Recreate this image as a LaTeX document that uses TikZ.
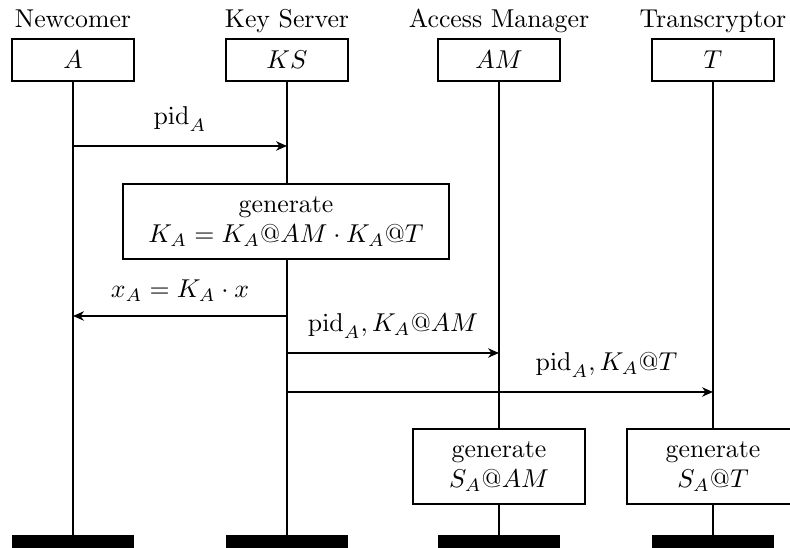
\documentclass[tikz,border=0pt]{standalone}
\usepackage{amsmath}
\usepackage{amssymb}
\usetikzlibrary{positioning,arrows.meta}

\tikzset{
  party/.style={draw,line width=0.8pt,minimum width=47pt,minimum height=16.3pt,inner sep=0pt},
  partyname/.style={inner sep=0pt,text depth=0pt},
  work/.style={draw,fill=white,line width=0.8pt,align=center,inner sep=0pt,minimum height=29pt},
  endbar/.style={fill=black,minimum width=47.3pt,minimum height=5pt,inner sep=0pt},
  life/.style={line width=0.8pt},
  msg/.style={line width=0.8pt,-{Stealth[length=4.2pt,width=3.6pt,inset=1.3pt]}}
}
% one participant: name, x, label, short name
\newcommand{\party}[4]{
    \node[party] (#1) at (#2,60) {$#4$};
    \node[partyname,above=4pt of #1] (n#1) {#3};
    \node[endbar] (e#1) at (#2,541.5) {};
    \draw[life] (#1) -- (e#1);
}

\begin{document}
\begin{tikzpicture}[x=0.3875pt,y=-0.3875pt]
    \useasboundingbox (0,0) rectangle (790,548);

    \party{A}{73}{Newcomer}{A};
    \party{KS}{287}{Key Server}{KS};
    \party{AM}{499}{Access Manager}{AM};
    \party{T}{713}{Transcryptor}{T};

    \coordinate (a1) at (73,146);
    \coordinate (k1) at (287,146);
    \coordinate (a2) at (73,316);
    \coordinate (k2) at (287,316);
    \coordinate (k3) at (287,353);
    \coordinate (m3) at (499,353);
    \coordinate (k4) at (287,392);
    \coordinate (t4) at (713,392);

    \draw[msg] (a1) -- node[above=2pt] {$\mathrm{pid}_A$} (k1);

    \node[work,minimum width=126.3pt] (genK) at (286,221.5)
        {generate\\$K_A = K_A@AM \cdot K_A@T$};

    \draw[msg] (k2) -- node[above=2pt] {$x_A = K_A \cdot x$} (a2);
    \draw[msg] (k3) -- node[above=2pt] {$\mathrm{pid}_A, K_A@AM$} (m3);
    \draw[msg] (k4) -- node[above=2pt,pos=0.75] {$\mathrm{pid}_A, K_A@T$} (t4);

    \node[work,minimum width=67pt] (genAM) at (499,466.5) {generate\\$S_A@AM$};
    \node[work,minimum width=67pt] (genT) at (713,466.5) {generate\\$S_A@T$};
\end{tikzpicture}
\end{document}
